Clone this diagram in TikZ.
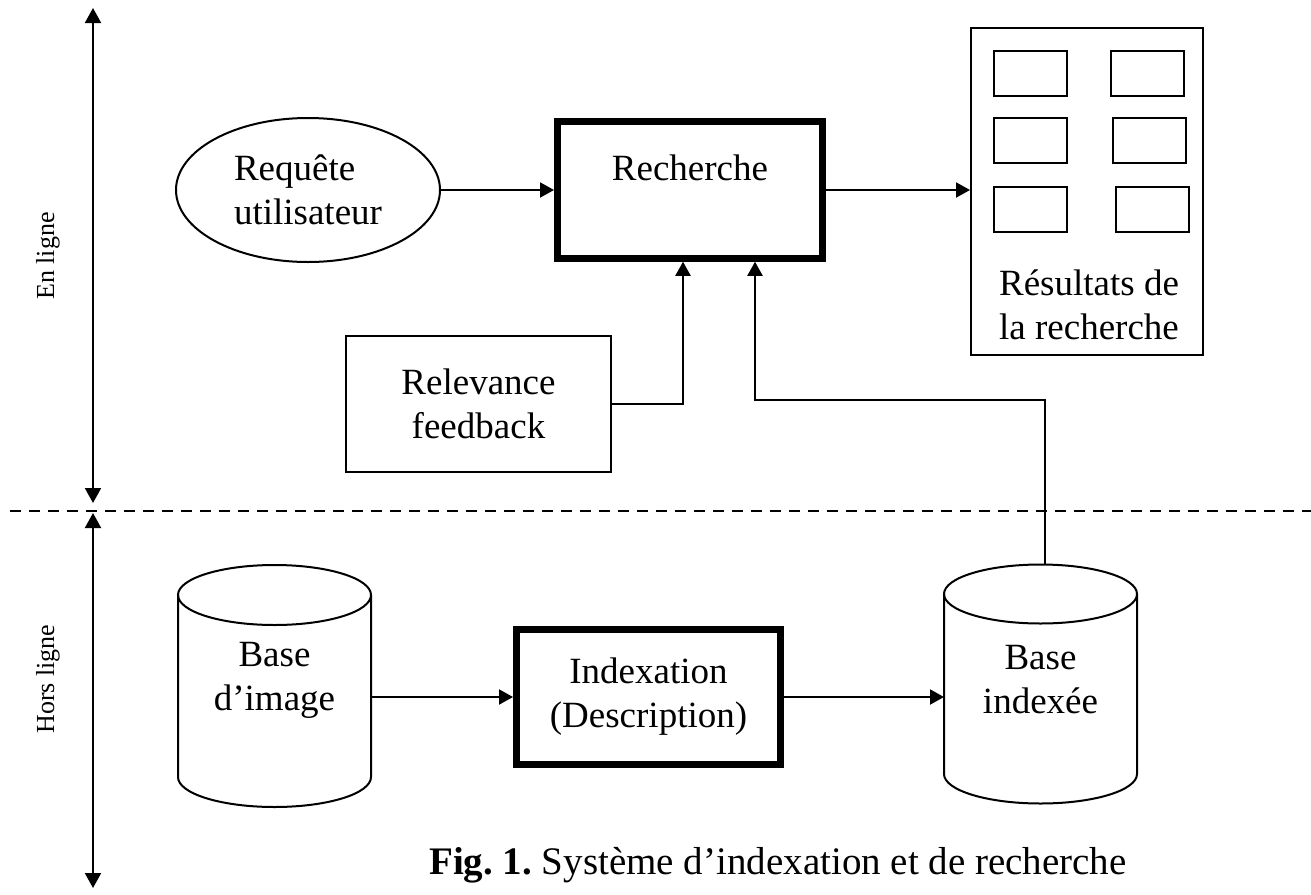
\documentclass[tikz,border=0pt]{standalone}
\usepackage{fontspec}
\setmainfont{Liberation Serif}
\usetikzlibrary{arrows.meta,shapes.geometric,calc}
\frenchspacing

% database drum: centre x, top-rim y, bottom-rim y, x radius, y radius
\newcommand\dbdrum[5]{%
  \draw[thinline] (#1-#4,#2) -- (#1-#4,#3)
    arc[start angle=180, end angle=360, x radius=#4pt, y radius=#5pt]
    -- (#1+#4,#2);
  \draw[thinline] (#1,#2) ellipse [x radius=#4pt, y radius=#5pt];
}

\tikzset{
  every node/.style={font=\fontsize{37}{44}\selectfont, align=center},
  thinline/.style={line width=2pt},
  plainbox/.style={draw, thinline, inner sep=0pt},
  heavybox/.style={draw, line width=7pt, inner sep=0pt},
  thumb/.style={draw, thinline, minimum width=73, minimum height=45, inner sep=0pt},
  holder/.style={inner sep=0pt, outer sep=0pt},
  conn/.style={thinline, -{Triangle[length=14pt, width=15pt]}},
  span/.style={thinline, {Triangle[length=15pt, width=16pt]}-{Triangle[length=15pt, width=16pt]}},
  sidelabel/.style={rotate=90, font=\fontsize{26}{30}\selectfont},
}

\begin{document}
\begin{tikzpicture}[x=1pt, y=-1pt]
  \useasboundingbox (0,0) rectangle (1311,894);

  % ---- on-line / off-line split ----
  \coordinate (sepL) at (10,511);
  \coordinate (sepR) at (1311,511);
  \draw[thinline, dash pattern=on 11pt off 8pt] (sepL) -- (sepR);

  \coordinate (onT)  at (93,8);
  \coordinate (onB)  at (93,503);
  \coordinate (offT) at (93,513);
  \coordinate (offB) at (93,888);
  \draw[span] (onT) -- (onB);
  \draw[span] (offT) -- (offB);

  \node[sidelabel] (onlbl)  at (48,256) {En ligne};
  \node[sidelabel] (offlbl) at (48,679) {Hors ligne};

  % ---- on-line part ----
  \node[draw, thinline, ellipse, minimum width=264, minimum height=144,
        inner sep=0pt, align=left] (req) at (308,190) {Requête\\utilisateur};

  \node[heavybox, minimum width=265, minimum height=136.5] (rech) at (690,190) {};
  \node (rechlbl) at (690,168) {Recherche};

  \node[plainbox, minimum width=232, minimum height=327] (res) at (1087,191.5) {};
  \node[thumb] (th1) at (1030.5,73.5)  {};
  \node[thumb] (th2) at (1147,73.5)    {};
  \node[thumb] (th3) at (1030.5,140.5) {};
  \node[thumb] (th4) at (1149.5,140.5) {};
  \node[thumb] (th5) at (1030.5,209)   {};
  \node[thumb] (th6) at (1152.5,209)   {};
  \node (reslbl) at (1089,305) {Résultats de\\la recherche};

  \node[plainbox, minimum width=265, minimum height=136] (rel) at (478.5,404)
       {Relevance\\feedback};

  % ---- off-line part ----
  \dbdrum{274.5}{595}{777}{96.5}{30}
  \node[holder, minimum width=193] (bimg) at (274.5,680) {Base\\d’image};

  \node[heavybox, minimum width=264, minimum height=135] (idx) at (648.5,697)
       {Indexation\\(Description)};

  \dbdrum{1040.5}{594}{774}{96.5}{29.5}
  \node[holder, minimum width=193] (bidx) at (1040.5,680) {Base\\indexée};

  % ---- connectors ----
  \draw[conn] (req.east) -- (rech.west);
  \draw[conn] (rech.east) -- (rech.east -| res.west);
  \draw[conn] (rel.east) -| ([xshift=-7pt]rech.south);

  \coordinate (bidxtop) at (1045,565);
  \coordinate (bend) at (755,400);
  \draw[conn] (bidxtop) |- (bend) -- (bend |- rech.south);

  \draw[conn] (idx.west -| bimg.east) -- (idx.west);
  \draw[conn] (idx.east) -- (idx.east -| bidx.west);

  % ---- caption ----
  \node[font=\fontsize{39}{44}\selectfont] (cap) at (778,865)
       {\textbf{Fig. 1.} Système d’indexation et de recherche};
\end{tikzpicture}
\end{document}
